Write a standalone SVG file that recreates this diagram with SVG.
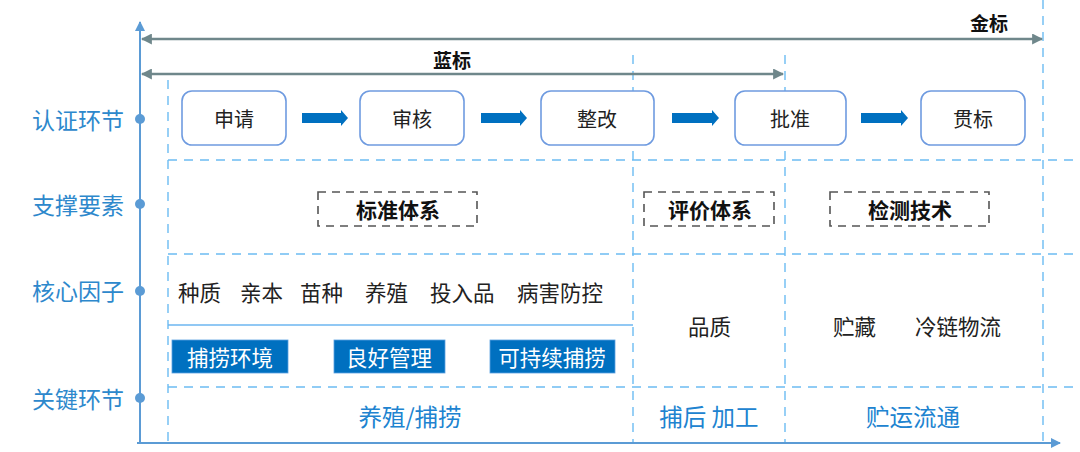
<svg xmlns="http://www.w3.org/2000/svg" width="1080" height="452" viewBox="0 0 1080 452">
<defs>
<style>
text{font-family:"Noto Sans CJK SC","Noto Sans",sans-serif;}
.lbl{font-size:23px;fill:#2d88cc;text-anchor:middle;dominant-baseline:central;}
.node rect{fill:#fff;stroke:#6f9be0;stroke-width:1.6;}
.node text{font-size:20px;fill:#222;text-anchor:middle;dominant-baseline:central;}
.dbox rect{fill:none;stroke:#555;stroke-width:1.6;stroke-dasharray:8 6;}
.dbox text{font-size:21px;font-weight:bold;fill:#111;text-anchor:middle;dominant-baseline:central;}
.fac{font-size:21.5px;fill:#222;dominant-baseline:central;}
.tag rect{fill:#0070c0;stroke:#5aa0e0;stroke-width:0.8;}
.tag text{font-size:21.5px;fill:#fff;text-anchor:middle;dominant-baseline:central;}
.key{font-size:23.5px;fill:#2083d0;text-anchor:middle;dominant-baseline:central;}
.dash{stroke:#6cbcf2;stroke-width:1.4;stroke-dasharray:9 7;fill:none;}
.axis{stroke:#5b9bd5;stroke-width:2;fill:none;}
.span{stroke:#6f878b;stroke-width:2.5;fill:none;}
.spanlbl{font-size:19px;font-weight:bold;fill:#111;text-anchor:middle;dominant-baseline:central;}
.fat{fill:#0070c0;}
</style>
<marker id="ah" viewBox="0 0 10 10" refX="9" refY="5" markerWidth="4.4" markerHeight="4.4" orient="auto-start-reverse">
<path d="M0,0 L10,5 L0,10 z" fill="#6f878b"/>
</marker>
<marker id="axh" viewBox="0 0 10 10" refX="9" refY="5" markerWidth="5" markerHeight="5" orient="auto">
<path d="M0,0 L10,5 L0,10 z" fill="#5b9bd5"/>
</marker>
</defs>
<rect width="1080" height="452" fill="#fff"/>

<g id="grid">
<line class="dash" x1="168" y1="80" x2="168" y2="443"/>
<line class="dash" x1="633" y1="55" x2="633" y2="443"/>
<line class="dash" x1="785" y1="55" x2="785" y2="443"/>
<line class="dash" x1="1043" y1="0" x2="1043" y2="443"/>
<line class="dash" x1="168" y1="160" x2="1080" y2="160"/>
<line class="dash" x1="168" y1="254" x2="1080" y2="254"/>
<line class="dash" x1="168" y1="387" x2="1080" y2="387"/>
<line x1="168" y1="325" x2="633" y2="325" stroke="#6cb6f0" stroke-width="1.6"/>
</g>

<g id="axes">
<line class="axis" x1="140" y1="443" x2="140" y2="22" marker-end="url(#axh)"/>
<line class="axis" x1="137" y1="443" x2="1060" y2="443" marker-end="url(#axh)"/>
<circle cx="140" cy="119" r="5" fill="#5b9bd5"/>
<circle cx="140" cy="204" r="5" fill="#5b9bd5"/>
<circle cx="140" cy="291" r="5" fill="#5b9bd5"/>
<circle cx="140" cy="398" r="5" fill="#5b9bd5"/>
</g>

<g id="row-labels">
<text class="lbl" x="78" y="119">认证环节</text>
<text class="lbl" x="78" y="204">支撑要素</text>
<text class="lbl" x="78" y="290">核心因子</text>
<text class="lbl" x="78" y="398">关键环节</text>
</g>

<g id="spans">
<line class="span" x1="142" y1="39" x2="1042" y2="39" marker-start="url(#ah)" marker-end="url(#ah)"/>
<text class="spanlbl" x="989" y="22">金标</text>
<line class="span" x1="142" y1="74" x2="783" y2="74" marker-start="url(#ah)" marker-end="url(#ah)"/>
<text class="spanlbl" x="452" y="59">蓝标</text>
</g>

<g id="node-shenqing" class="node"><rect x="182" y="91" width="104" height="54" rx="10"/><text x="234" y="118">申请</text></g>
<g id="node-shenhe" class="node"><rect x="360" y="91" width="104" height="54" rx="10"/><text x="412" y="118">审核</text></g>
<g id="node-zhenggai" class="node"><rect x="541" y="91" width="113" height="54" rx="10"/><text x="597" y="118">整改</text></g>
<g id="node-pizhun" class="node"><rect x="735" y="91" width="111" height="54" rx="10"/><text x="790" y="118">批准</text></g>
<g id="node-guanbiao" class="node"><rect x="921" y="91" width="104" height="54" rx="10"/><text x="973" y="118">贯标</text></g>

<g id="connectors">
<path class="fat" d="M302,113 H341 V110 L348,118 L341,126 V123 H302 z"/>
<path class="fat" d="M481,113 H520 V110 L527,118 L520,126 V123 H481 z"/>
<path class="fat" d="M672,113 H712 V110 L719,118 L712,126 V123 H672 z"/>
<path class="fat" d="M861,113 H901 V110 L908,118 L901,126 V123 H861 z"/>
</g>

<g id="support-biaozhun" class="dbox"><rect x="318" y="192" width="159" height="34"/><text x="398" y="209">标准体系</text></g>
<g id="support-pingjia" class="dbox"><rect x="644" y="192" width="130" height="34"/><text x="710" y="209">评价体系</text></g>
<g id="support-jiance" class="dbox"><rect x="830" y="192" width="159" height="34"/><text x="910" y="209">检测技术</text></g>

<g id="factors">
<text class="fac" x="178" y="291">种质</text>
<text class="fac" x="240" y="291">亲本</text>
<text class="fac" x="300" y="291">苗种</text>
<text class="fac" x="365" y="291">养殖</text>
<text class="fac" x="430" y="291">投入品</text>
<text class="fac" x="517" y="291">病害防控</text>
<text class="fac" x="688" y="325">品质</text>
<text class="fac" x="833" y="325">贮藏</text>
<text class="fac" x="915" y="325">冷链物流</text>
</g>

<g id="tag-huanjing" class="tag"><rect x="172" y="340" width="116" height="33"/><text x="230" y="356">捕捞环境</text></g>
<g id="tag-guanli" class="tag"><rect x="334" y="340" width="111" height="33"/><text x="389" y="356">良好管理</text></g>
<g id="tag-kechixu" class="tag"><rect x="490" y="340" width="125" height="33"/><text x="552" y="356">可持续捕捞</text></g>

<g id="key-links">
<text class="key" x="410" y="416">养殖/捕捞</text>
<text class="key" x="709" y="416">捕后 加工</text>
<text class="key" x="913" y="416">贮运流通</text>
</g>
</svg>
